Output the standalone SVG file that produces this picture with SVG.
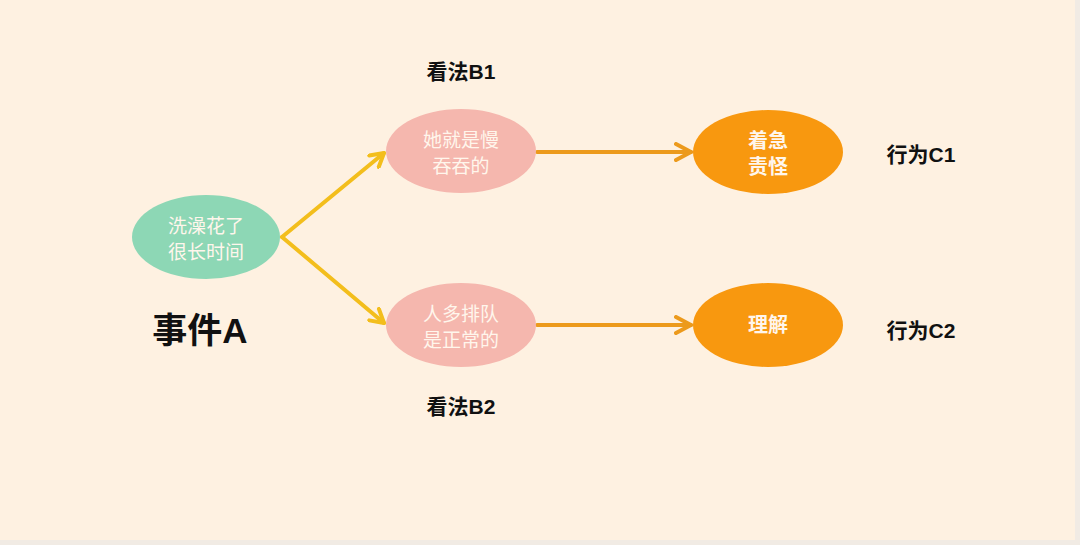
<svg xmlns="http://www.w3.org/2000/svg" width="1080" height="545" viewBox="0 0 1080 545">
<defs>
<style>
.lbl{font-family:"Liberation Sans","Noto Sans CJK SC",sans-serif;font-weight:bold;fill:#111;text-anchor:middle}
.in{font-family:"Liberation Sans","Noto Sans CJK SC",sans-serif;fill:#FFF6EC;text-anchor:middle;font-size:19px}
.inb{font-family:"Liberation Sans","Noto Sans CJK SC",sans-serif;font-weight:bold;fill:#FFF6EC;text-anchor:middle;font-size:20px}
.y{stroke:#F3BE1C;stroke-width:4;fill:none;stroke-linecap:round}
.o{stroke:#EC9A1C;stroke-width:4;fill:none;stroke-linecap:round}
</style>
<marker id="ay" viewBox="0 0 18 18" refX="15" refY="9" markerWidth="18" markerHeight="18" markerUnits="userSpaceOnUse" orient="auto"><path d="M2,1.5 L15,9 L2,16.5" fill="none" stroke="#F3BE1C" stroke-width="4" stroke-linecap="round" stroke-linejoin="round"/></marker>
<marker id="ao" viewBox="0 0 20 20" refX="17" refY="10" markerWidth="20" markerHeight="20" markerUnits="userSpaceOnUse" orient="auto"><path d="M2,2 L17,10 L2,18" fill="none" stroke="#EC9A1C" stroke-width="4" stroke-linecap="round" stroke-linejoin="round"/></marker>
</defs>
<rect width="1080" height="545" fill="#F1EBE4"/>
<rect x="0" y="0" width="1075" height="540" fill="#FEF1E1"/>
<g id="connectors">
<line class="y" x1="282" y1="237" x2="384" y2="153" marker-end="url(#ay)"/>
<line class="y" x1="282" y1="237" x2="384" y2="323" marker-end="url(#ay)"/>
<line class="o" x1="537" y1="152" x2="691" y2="152" marker-end="url(#ao)"/>
<line class="o" x1="537" y1="325" x2="691" y2="325" marker-end="url(#ao)"/>
</g>
<g id="eventA">
<ellipse cx="206" cy="237" rx="74" ry="42" fill="#8DD7B5"/>
<text class="in" x="206" y="233">洗澡花了</text>
<text class="in" x="206" y="259">很长时间</text>
<text class="lbl" x="200" y="343" font-size="35">事件A</text>
</g>
<g id="viewB1">
<ellipse cx="461" cy="151" rx="75" ry="42" fill="#F5B7AE"/>
<text class="in" x="461" y="147">她就是慢</text>
<text class="in" x="461" y="173">吞吞的</text>
<text class="lbl" x="461" y="79" font-size="21">看法B1</text>
</g>
<g id="viewB2">
<ellipse cx="461" cy="325" rx="75" ry="42" fill="#F5B7AE"/>
<text class="in" x="461" y="321">人多排队</text>
<text class="in" x="461" y="347">是正常的</text>
<text class="lbl" x="461" y="414" font-size="21">看法B2</text>
</g>
<g id="actC1">
<ellipse cx="768" cy="152" rx="75" ry="42" fill="#F8980F"/>
<text class="inb" x="768" y="148">着急</text>
<text class="inb" x="768" y="174">责怪</text>
<text class="lbl" x="921" y="162" font-size="21">行为C1</text>
</g>
<g id="actC2">
<ellipse cx="768" cy="325" rx="75" ry="42" fill="#F8980F"/>
<text class="inb" x="768" y="332">理解</text>
<text class="lbl" x="921" y="338" font-size="21">行为C2</text>
</g>
</svg>
